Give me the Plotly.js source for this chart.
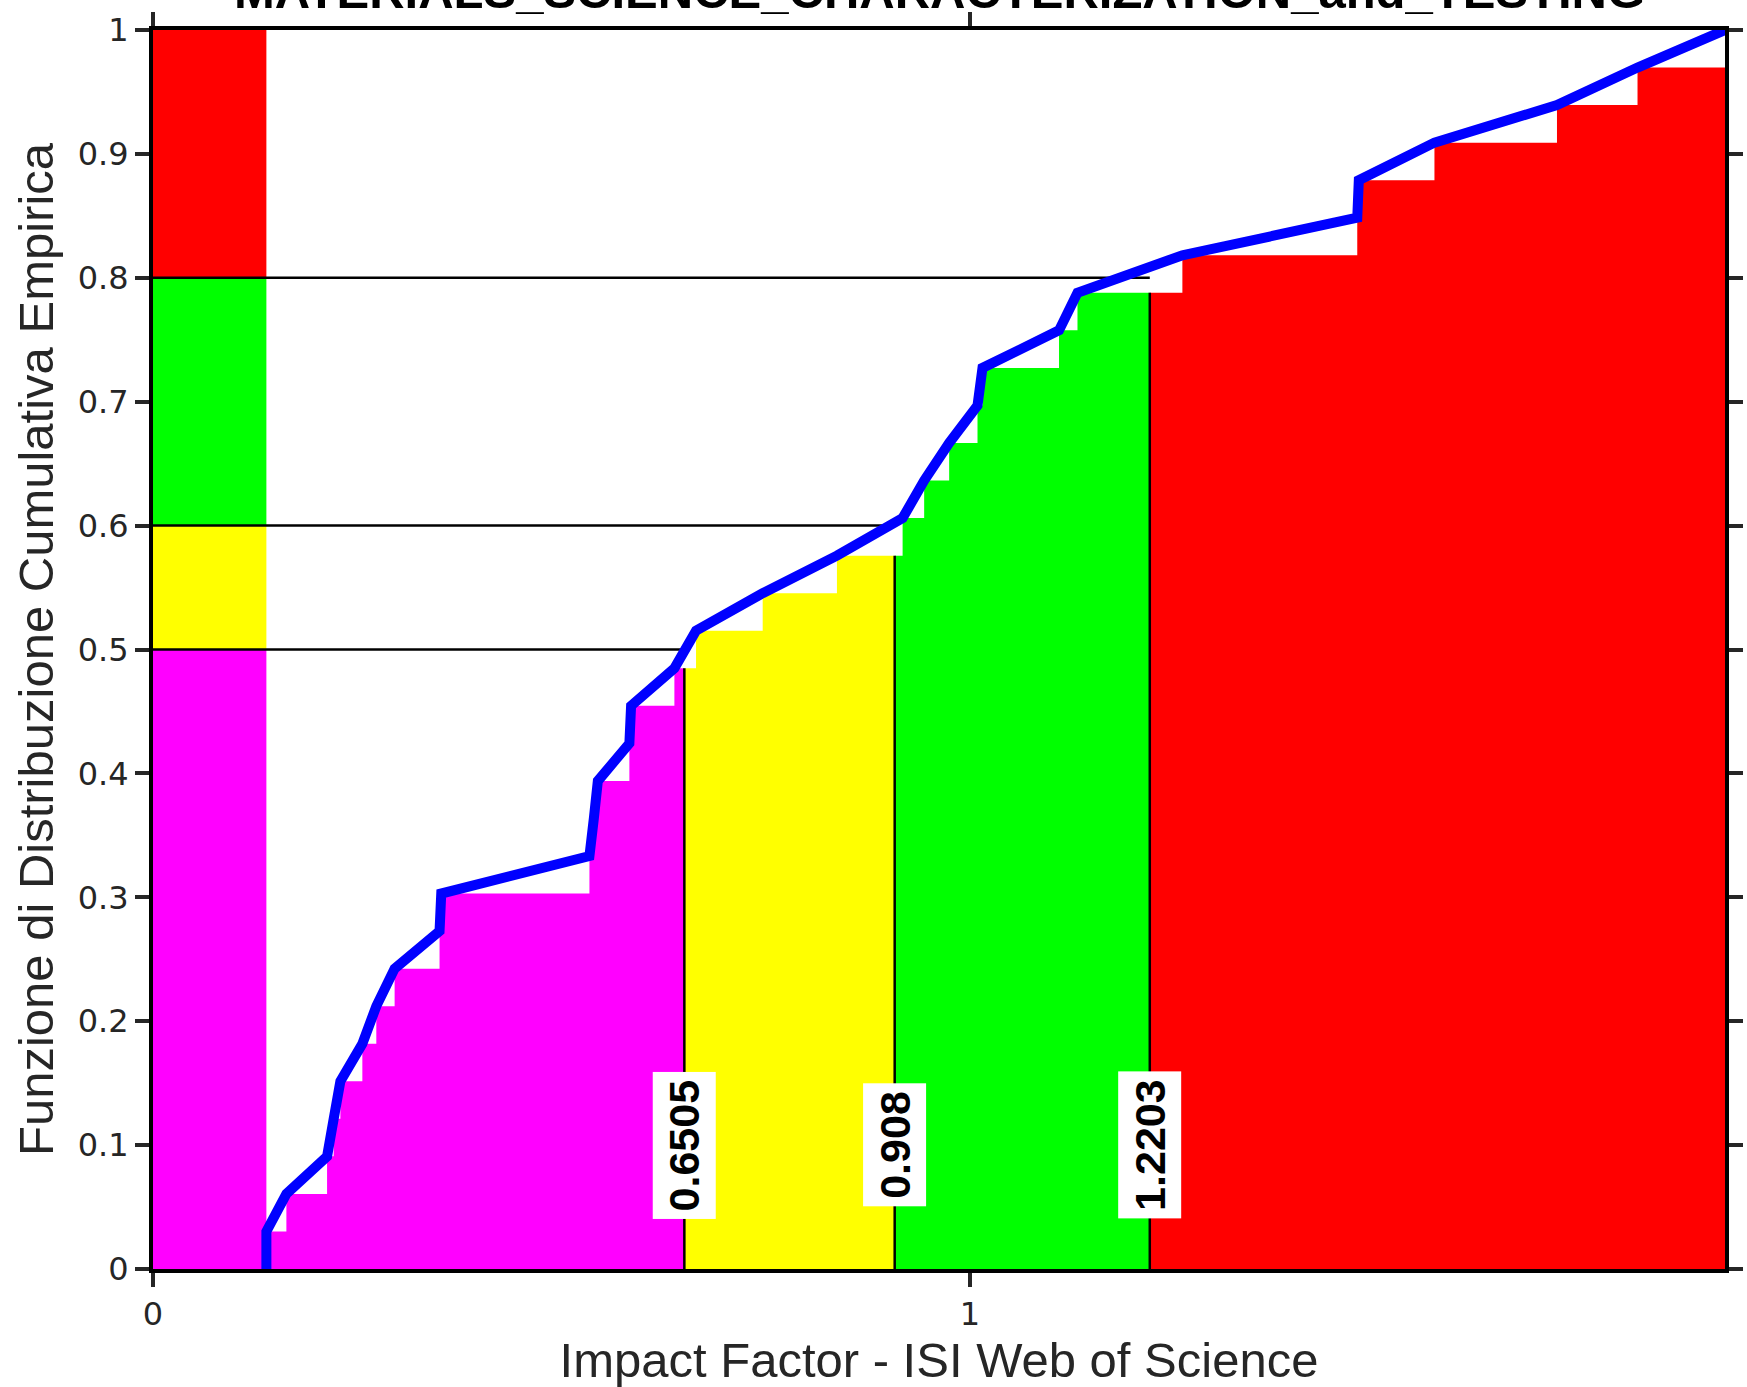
<!DOCTYPE html>
<html><head><meta charset="utf-8">
<script src="https://cdn.plot.ly/plotly-3.0.1.min.js"></script>
<style>html,body{margin:0;padding:0;background:#fff}#chart{width:1747px;height:1387px}</style>
</head><body><div id="chart"></div>
<script>
const chartTitle = "MATERIALS_SCIENCE_CHARACTERIZATION_and_TESTING";
const xAxisTitle = "Impact Factor - ISI Web of Science";
const yAxisTitle = "Funzione di Distribuzione Cumulativa Empirica";
const impactFactors = [0.1388, 0.1633, 0.2131, 0.2212, 0.2294, 0.2563, 0.2734, 0.2958, 0.3508, 0.3529,
  0.5343, 0.5397, 0.5446, 0.5832, 0.5853, 0.6383, 0.6648, 0.7464, 0.8373, 0.9177,
  0.9441, 0.9747, 1.0094, 1.0155, 1.1092, 1.1318, 1.2602, 1.4743, 1.4762, 1.5688,
  1.7188, 1.8174, 1.9245];
const quantileLevels = [0.5, 0.6, 0.8];
const quantileValues = [0.6505, 0.908, 1.2203];
const quantileLabels = ["0.6505", "0.908", "1.2203"];
const bandColors = ["#FF00FF", "#FFFF00", "#00FF00", "#FF0000"];
const yTickVals = [0, 0.1, 0.2, 0.3, 0.4, 0.5, 0.6, 0.7, 0.8, 0.9, 1];
const yTickText = ["0", "0.1", "0.2", "0.3", "0.4", "0.5", "0.6", "0.7", "0.8", "0.9", "1"];
const xTickVals = [0, 1];
const xTickText = ["0", "1"];

const sorted = impactFactors.slice().sort((a, b) => a - b);
const n = sorted.length;
const xmin = sorted[0], xmax = sorted[n - 1];
const Fle = x => sorted.filter(v => v <= x).length / n;
const Flt = x => sorted.filter(v => v < x).length / n;

const traces = [];
// left legend-like bar
const levels = [0].concat(quantileLevels, [1]);
for (let j = 0; j < bandColors.length; j++) {
  traces.push({type: 'bar', x: [xmin / 2], width: [xmin], base: [levels[j]], y: [levels[j + 1] - levels[j]],
    marker: {color: bandColors[j], line: {width: 0}}, hoverinfo: 'skip', showlegend: false});
}
// stair fills
const edges = [xmin].concat(quantileValues, [xmax]);
for (let j = 0; j < bandColors.length; j++) {
  const a = edges[j], b = edges[j + 1];
  const xs = [a], ys = [Fle(a)];
  sorted.forEach(v => { if (v > a && v < b) { xs.push(v); ys.push(Fle(v)); } });
  xs.push(b); ys.push(Flt(b));
  traces.push({type: 'scatter', mode: 'lines', x: xs, y: ys, line: {shape: 'hv', width: 0, color: bandColors[j]},
    fill: 'tozeroy', fillcolor: bandColors[j], hoverinfo: 'skip', showlegend: false});
}
// quantile guide lines
for (let j = 0; j < quantileValues.length; j++) {
  const q = quantileValues[j];
  traces.push({type: 'scatter', mode: 'lines', x: [0, q], y: [quantileLevels[j], quantileLevels[j]],
    line: {color: '#000', width: 2.5}, hoverinfo: 'skip', showlegend: false});
  traces.push({type: 'scatter', mode: 'lines', x: [q, q], y: [0, Fle(q)],
    line: {color: '#000', width: 2.5}, hoverinfo: 'skip', showlegend: false});
}
// ECDF line
const ex = [xmin].concat(sorted);
const ey = [0].concat(sorted.map((v, i) => (i + 1) / n));
traces.push({type: 'scatter', mode: 'lines', x: ex, y: ey, line: {color: '#0000FF', width: 10},
  cliponaxis: false, hoverinfo: 'skip', showlegend: false});

const annotations = quantileValues.map((q, j) => ({
  x: q, y: 0.1, xref: 'x', yref: 'y', text: '<b>' + quantileLabels[j] + '</b>', textangle: -90,
  showarrow: false, bgcolor: '#fff', borderpad: 7,
  font: {family: 'Liberation Sans, Arial, sans-serif', size: 43, color: '#000'}
}));
annotations.push({x: 0.5, y: 1, xref: 'paper', yref: 'paper', xanchor: 'center', yanchor: 'bottom', yshift: 10,
  text: '<b>' + chartTitle + '</b>', showarrow: false,
  font: {family: 'Liberation Sans, Arial, sans-serif', size: 49, color: '#000'}});

const axisCommon = {
  ticks: 'outside', ticklen: 14, tickwidth: 4, tickcolor: '#262626',
  showline: true, linewidth: 4, linecolor: '#000', mirror: 'ticks',
  showgrid: false, zeroline: false, layer: 'above traces',
  tickfont: {family: 'DejaVu Sans, sans-serif', size: 32, color: '#262626'}
};
const layout = {
  width: 1747, height: 1387,
  margin: {l: 153, r: 22, t: 30, b: 118, pad: 0},
  paper_bgcolor: '#fff', plot_bgcolor: '#fff',
  barmode: 'overlay', showlegend: false,
  xaxis: Object.assign({}, axisCommon, {range: [0, xmax], tickmode: 'array', tickvals: xTickVals, ticktext: xTickText,
    title: {text: xAxisTitle, standoff: 14, font: {family: 'Liberation Sans, Arial, sans-serif', size: 49, color: '#262626'}}}),
  yaxis: Object.assign({}, axisCommon, {range: [0, 1], tickmode: 'array', tickvals: yTickVals, ticktext: yTickText,
    title: {text: yAxisTitle, standoff: 10, font: {family: 'Liberation Sans, Arial, sans-serif', size: 49, color: '#262626'}}}),
  annotations: annotations
};
Plotly.newPlot('chart', traces, layout, {staticPlot: true, displayModeBar: false});
</script></body></html>
